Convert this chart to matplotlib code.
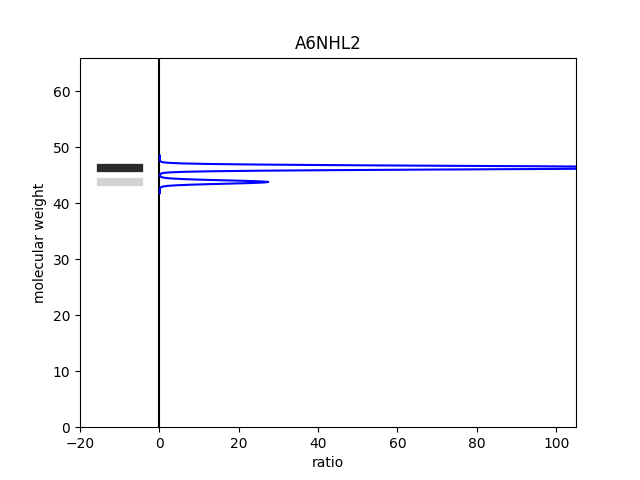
import numpy as np
import matplotlib.pyplot as plt

# ----------------------------------------------------------------------
# data
# ----------------------------------------------------------------------
protein = "A6NHL2"

# band positions (molecular weight) and their shades
band_mw     = [46.32, 43.85]
band_colors = ["#2b2b2b", "#d3d3d3"]
band_left   = -16
band_width  = 12
band_height = 1.6

# ratio profile along molecular weight
profile_mw = [48.5, 48.0, 47.6, 47.4, 47.3, 47.2, 47.1, 47.0, 46.9, 46.8,
              46.75, 46.7, 46.65, 46.6, 46.55, 46.5, 46.45, 46.4, 46.35,
              46.3, 46.25, 46.2, 46.15, 46.1, 46.05, 46.0, 45.95, 45.9,
              45.8, 45.7, 45.6, 45.5, 45.4, 45.3, 45.2, 45.0, 44.8, 44.7,
              44.6, 44.5, 44.4, 44.3, 44.2, 44.1, 44.0, 43.9, 43.8, 43.7,
              43.6, 43.5, 43.4, 43.3, 43.2, 43.1, 43.0, 42.9, 42.8, 42.6,
              42.2, 41.8]
profile_ratio = [0.15, 0.15, 0.15, 0.43, 1.03, 2.55, 5.95, 12.85, 24.95, 43.35,
                 54.85, 67.45, 80.85, 94.15, 106.65, 117.55, 125.95, 131.35, 133.15,
                 131.35, 125.95, 117.55, 106.65, 94.15, 80.85, 67.45, 54.85, 43.35,
                 24.95, 12.85, 5.95, 2.55, 1.03, 0.43, 0.23, 0.15, 0.23, 0.40,
                 0.80, 1.68, 3.37, 6.23, 10.35, 15.65, 21.05, 25.35, 27.45, 26.45,
                 22.95, 17.85, 12.35, 7.75, 4.35, 2.25, 1.08, 0.52, 0.28, 0.16,
                 0.15, 0.15]

# ----------------------------------------------------------------------
# plot
# ----------------------------------------------------------------------
fig, ax = plt.subplots(figsize=(6.4, 4.8), dpi=100)

ax.barh(band_mw, band_width, left=band_left, height=band_height,
        color=band_colors, edgecolor="white", linewidth=0.5)
ax.axvline(0, color="black", lw=1.5)
ax.plot(profile_ratio, profile_mw, color="blue", lw=1.5)

ax.set_xlim(-20, 105)
ax.set_ylim(0, 66)
ax.set_xlabel("ratio")
ax.set_ylabel("molecular weight")
ax.set_title(protein)

fig.savefig("out.png", dpi=100)
